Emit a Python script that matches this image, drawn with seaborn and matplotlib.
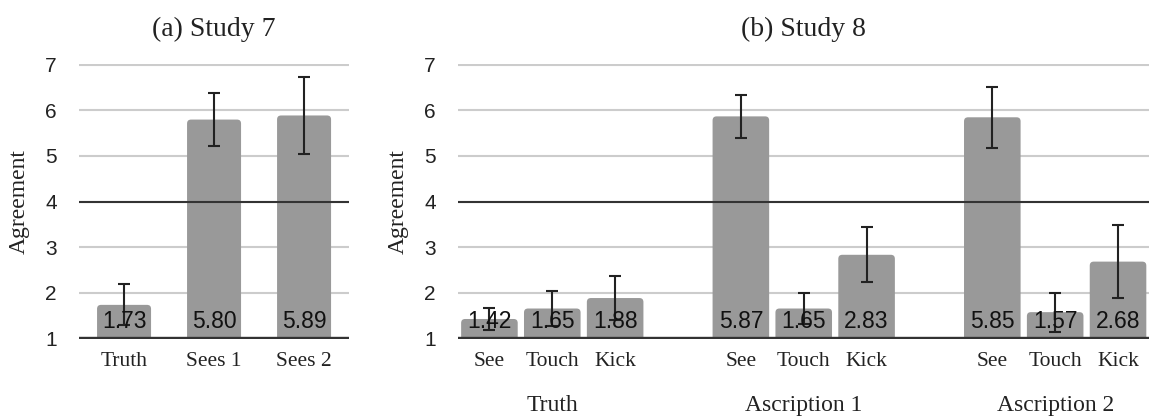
import numpy as np
import pandas as pd
import seaborn as sns
import matplotlib.pyplot as plt
from matplotlib.patches import FancyBboxPatch

# ---- data -------------------------------------------------------------
study7_conditions = ["Truth", "Sees 1", "Sees 2"]
study7_means = [1.73, 5.80, 5.89]
study7_errors = [0.45, 0.58, 0.84]

study8_groups = ["Truth", "Ascription 1", "Ascription 2"]
study8_verbs = ["See", "Touch", "Kick"]
study8_means = [[1.42, 1.65, 1.88],
                [5.87, 1.65, 2.83],
                [5.85, 1.57, 2.68]]
study8_errors = [[0.24, 0.38, 0.48],
                 [0.48, 0.35, 0.60],
                 [0.67, 0.43, 0.80]]

y_ticks = [1, 2, 3, 4, 5, 6, 7]
midpoint = 4

# ---- style ------------------------------------------------------------
sns.set_theme(style="white")
plt.rcParams["font.family"] = ["Liberation Serif", "DejaVu Serif"]
SANS = ["Liberation Sans", "DejaVu Sans"]
BAR = "#999999"
DARK = "#333333"

fig = plt.figure(figsize=(11.49, 4.19), dpi=100)
ax_a = fig.add_axes([0.0688, 0.1909, 0.2350, 0.6563])
ax_b = fig.add_axes([0.3986, 0.1909, 0.6018, 0.6563])

df7 = pd.DataFrame({"condition": study7_conditions, "agreement": study7_means})
sns.barplot(data=df7, x="condition", y="agreement", order=study7_conditions,
            color=BAR, saturation=1, width=0.6, errorbar=None, ax=ax_a)

rows = []
for g, grp in enumerate(study8_groups):
    for i, verb in enumerate(study8_verbs):
        rows.append({"group": grp, "verb": verb, "slot": g * 4 + i,
                     "agreement": study8_means[g][i],
                     "err": study8_errors[g][i]})
df8 = pd.DataFrame(rows)
sns.barplot(data=df8, x="slot", y="agreement", native_scale=True,
            color=BAR, saturation=1, width=0.9, errorbar=None, ax=ax_b)


def style_axes(ax, xlim):
    ax.set_xlim(*xlim)
    ax.set_ylim(0.98, 7.02)
    ax.set_yticks(y_ticks)
    for s in ax.spines.values():
        s.set_visible(False)
    ax.yaxis.grid(True, color="#cccccc", lw=1.5)
    ax.xaxis.grid(False)
    ax.set_axisbelow(True)
    ax.tick_params(axis="y", length=0, pad=16, labelsize=15, labelcolor="#222222")
    ax.tick_params(axis="x", length=0, pad=9, labelsize=15.5, labelcolor="#222222")
    for lab in ax.get_yticklabels():
        lab.set_family(SANS)
    ax.axhline(1, color=DARK, lw=1.7, zorder=3)
    ax.axhline(midpoint, color=DARK, lw=1.5, zorder=3)
    ax.set_xlabel("")


def round_bars(ax, radius_px=4.0):
    bbox = ax.get_window_extent()
    x0, x1 = ax.get_xlim()
    y0, y1 = ax.get_ylim()
    xpu = bbox.width / (x1 - x0)
    ypu = bbox.height / (y1 - y0)
    r = radius_px / xpu
    centers = []
    for p in list(ax.patches):
        x, w = p.get_x(), p.get_width()
        top = p.get_y() + p.get_height()
        p.remove()
        base = 0.85
        fb = FancyBboxPatch((x, base), w, top - base,
                            boxstyle=f"round,pad=0,rounding_size={r}",
                            mutation_aspect=xpu / ypu,
                            fc=BAR, ec="none", zorder=2)
        ax.add_patch(fb)
        centers.append(x + w / 2)
    return centers


def annotate_bars(ax, centers, means, errors):
    ax.errorbar(centers, means, yerr=errors, fmt="none", ecolor="#222222",
                elinewidth=1.5, capsize=4.5, capthick=1.5, zorder=4)
    for x, m in zip(centers, means):
        ax.annotate(f"{m:.2f}", xy=(x, 1), xytext=(0, 12),
                    textcoords="offset points", ha="center", va="center",
                    fontsize=16.5, family=SANS, color="#111111", zorder=5)


# panel (a)
style_axes(ax_a, (-0.5, 2.5))
ax_a.set_xticks(range(len(study7_conditions)))
ax_a.set_xticklabels(study7_conditions)
ca = round_bars(ax_a)
annotate_bars(ax_a, ca, study7_means, study7_errors)
ax_a.set_ylabel("Agreement", fontsize=17, color="#222222")
ax_a.yaxis.set_label_coords(-0.181, 0.5)
ax_a.set_title("(a) Study 7", fontsize=20, pad=20, color="#222222")

# panel (b)
style_axes(ax_b, (-0.5, 10.5))
ax_b.set_xticks(df8["slot"])
ax_b.set_xticklabels(df8["verb"])
cb = round_bars(ax_b)
annotate_bars(ax_b, cb, df8["agreement"].tolist(), df8["err"].tolist())
for g, grp in enumerate(study8_groups):
    mid = df8.loc[df8["group"] == grp, "slot"].mean()
    ax_b.annotate(grp, xy=(mid, 0), xycoords=("data", "axes fraction"),
                  xytext=(0, -48), textcoords="offset points",
                  ha="center", va="center", fontsize=17, color="#222222")
ax_b.set_ylabel("Agreement", fontsize=17, color="#222222")
ax_b.yaxis.set_label_coords(-0.0709, 0.5)
ax_b.set_title("(b) Study 8", fontsize=20, pad=20, color="#222222")

fig.savefig("out.png", dpi=100)
